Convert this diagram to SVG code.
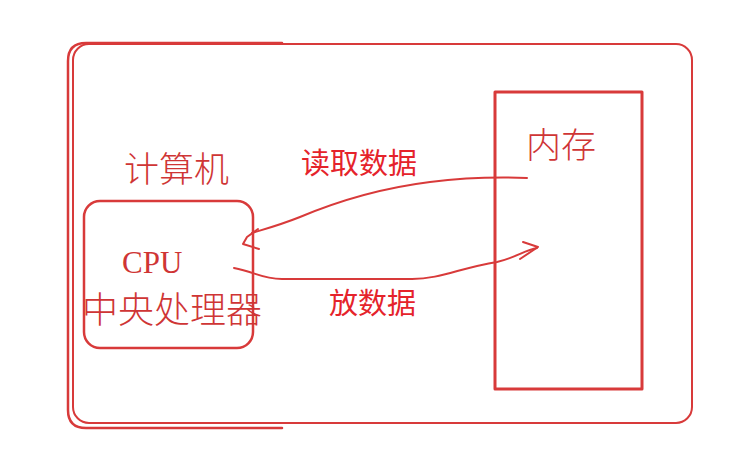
<svg xmlns="http://www.w3.org/2000/svg" width="751" height="461" viewBox="0 0 751 461">
<style>
.ln{fill:none;stroke:#d83a3a;stroke-linecap:round;stroke-linejoin:round}
.serif{font-family:"Liberation Serif","Noto Sans CJK SC",serif;fill:#cf3535}
.cjk{font-family:"Noto Sans CJK SC",sans-serif;fill:#cf3535;font-weight:300}
.lbl{font-family:"Noto Sans CJK SC",sans-serif;fill:#e5232b}
</style>
<rect width="751" height="461" fill="#ffffff"/>
<g id="computer">
<rect class="ln" x="73" y="44" width="619" height="379" rx="16" stroke-width="2"/>
<path class="ln" d="M282,43 L86,43 Q68,43 68,61 L68,410 Q68,428 86,428 L282,428" stroke-width="2.5"/>
<text class="cjk" x="124" y="182" font-size="35">计算机</text>
</g>
<g id="cpu">
<rect class="ln" x="84" y="201" width="169" height="147" rx="16" stroke-width="2.5"/>
<text class="serif" x="122" y="273" font-size="31">CPU</text>
<text class="cjk" x="82" y="323" font-size="36">中央处理器</text>
</g>
<g id="memory">
<rect class="ln" x="495" y="92" width="147" height="297" stroke-width="3"/>
<text class="cjk" x="526" y="158" font-size="35">内存</text>
</g>
<g id="connectors">
<path class="ln" stroke-width="2" d="M527,178 C500,177 470,177 430,182 C390,187 350,196 300,217 C280,225 265,229 252,233"/>
<path class="ln" stroke-width="2" d="M258,229 L247,237 L243,244 L259,249"/>
<path class="ln" stroke-width="2" d="M234,268 C255,272 262,279 282,279 L412,279 C440,279 460,268 497,262 C515,258 525,250 537,248"/>
<path class="ln" stroke-width="2" d="M523,242 L538,247 L520,259"/>
<text class="lbl" x="301" y="174" font-size="29">读取数据</text>
<text class="lbl" x="329" y="314" font-size="29">放数据</text>
</g>
</svg>
